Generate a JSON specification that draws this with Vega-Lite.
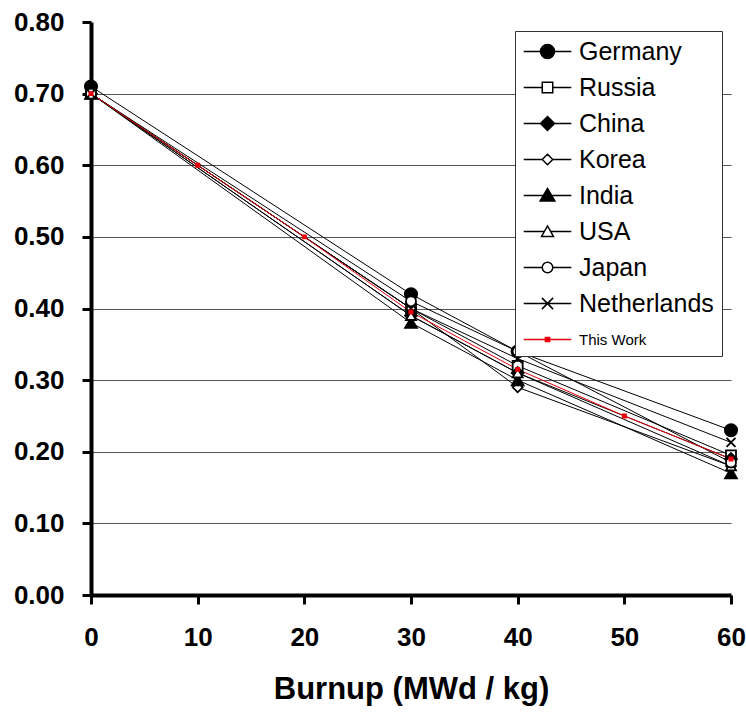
{
  "$schema": "https://vega.github.io/schema/vega-lite/v6.json",
  "width": 640,
  "height": 573,
  "autosize": {"type": "none"},
  "padding": {"left": 91, "top": 22, "right": 15, "bottom": 120},
  "background": "white",
  "config": {"view": {"stroke": null}},
  "data": {
    "values": [
      {"country": "Germany", "burnup": 0, "k": 0.71},
      {"country": "Germany", "burnup": 30, "k": 0.42},
      {"country": "Germany", "burnup": 40, "k": 0.34},
      {"country": "Germany", "burnup": 60, "k": 0.23},
      {"country": "Russia", "burnup": 0, "k": 0.70},
      {"country": "Russia", "burnup": 30, "k": 0.40},
      {"country": "Russia", "burnup": 40, "k": 0.32},
      {"country": "Russia", "burnup": 60, "k": 0.195},
      {"country": "China", "burnup": 0, "k": 0.70},
      {"country": "China", "burnup": 30, "k": 0.39},
      {"country": "China", "burnup": 40, "k": 0.31},
      {"country": "China", "burnup": 60, "k": 0.19},
      {"country": "Korea", "burnup": 0, "k": 0.70},
      {"country": "Korea", "burnup": 30, "k": 0.40},
      {"country": "Korea", "burnup": 40, "k": 0.29},
      {"country": "Korea", "burnup": 60, "k": 0.18},
      {"country": "India", "burnup": 0, "k": 0.70},
      {"country": "India", "burnup": 30, "k": 0.38},
      {"country": "India", "burnup": 40, "k": 0.30},
      {"country": "India", "burnup": 60, "k": 0.17},
      {"country": "USA", "burnup": 0, "k": 0.70},
      {"country": "USA", "burnup": 30, "k": 0.39},
      {"country": "USA", "burnup": 40, "k": 0.31},
      {"country": "USA", "burnup": 60, "k": 0.18},
      {"country": "Japan", "burnup": 0, "k": 0.70},
      {"country": "Japan", "burnup": 30, "k": 0.41},
      {"country": "Japan", "burnup": 40, "k": 0.34},
      {"country": "Japan", "burnup": 60, "k": 0.185},
      {"country": "Netherlands", "burnup": 0, "k": 0.70},
      {"country": "Netherlands", "burnup": 30, "k": 0.40},
      {"country": "Netherlands", "burnup": 40, "k": 0.33},
      {"country": "Netherlands", "burnup": 60, "k": 0.213},
      {"country": "This Work", "burnup": 0, "k": 0.70},
      {"country": "This Work", "burnup": 10, "k": 0.60},
      {"country": "This Work", "burnup": 20, "k": 0.50},
      {"country": "This Work", "burnup": 30, "k": 0.395},
      {"country": "This Work", "burnup": 40, "k": 0.315},
      {"country": "This Work", "burnup": 50, "k": 0.25},
      {"country": "This Work", "burnup": 60, "k": 0.19}
    ]
  },
  "encoding": {
    "x": {
      "field": "burnup", "type": "quantitative",
      "scale": {"domain": [0, 60], "nice": false, "zero": false},
      "axis": {
        "title": "Burnup (MWd / kg)",
        "values": [0, 10, 20, 30, 40, 50, 60],
        "grid": false,
        "domainColor": "black", "domainWidth": 4,
        "tickColor": "black", "tickWidth": 3, "tickSize": 9,
        "labelFont": "Liberation Sans, Arial, sans-serif",
        "labelFontSize": 26, "labelFontWeight": "bold", "labelColor": "black",
        "labelPadding": 20, "labelFlush": false,
        "titleFont": "Liberation Sans, Arial, sans-serif",
        "titleFontSize": 31, "titleFontWeight": "bold", "titleColor": "black",
        "titlePadding": 24
      }
    },
    "y": {
      "field": "k", "type": "quantitative",
      "scale": {"domain": [0, 0.8], "nice": false},
      "axis": {
        "title": null,
        "values": [0, 0.1, 0.2, 0.3, 0.4, 0.5, 0.6, 0.7, 0.8],
        "format": ".2f",
        "grid": true, "gridColor": "#555555", "gridWidth": 1,
        "gridOpacity": {"condition": {"test": "datum.value > 0.75", "value": 0}, "value": 1},
        "domainColor": "black", "domainWidth": 4,
        "tickColor": "black", "tickWidth": 3, "tickSize": 9,
        "labelFont": "Liberation Sans, Arial, sans-serif",
        "labelFontSize": 26, "labelFontWeight": "bold", "labelColor": "black",
        "labelPadding": 18, "labelFlush": false
      }
    }
  },
  "layer": [
    {
      "mark": {"type": "line", "strokeWidth": 1},
      "encoding": {
        "detail": {"field": "country"},
        "stroke": {
          "field": "country", "type": "nominal", "legend": null,
          "scale": {
            "domain": ["Germany", "Russia", "China", "Korea", "India", "USA", "Japan", "Netherlands", "This Work"],
            "range": ["black", "black", "black", "black", "black", "black", "black", "black", "#e8000b"]
          }
        }
      }
    },
    {
      "mark": {"type": "point", "filled": true, "strokeWidth": 1.8, "opacity": 1},
      "encoding": {
        "shape": {
          "field": "country", "type": "nominal", "legend": null,
          "scale": {
            "domain": ["Germany", "Russia", "China", "Korea", "India", "USA", "Japan", "Netherlands", "This Work"],
            "range": ["circle", "square", "diamond", "diamond", "triangle-up", "triangle-up", "circle", "M-1,-1L1,1M-1,1L1,-1", "square"]
          }
        },
        "fill": {
          "field": "country", "type": "nominal", "legend": null,
          "scale": {
            "domain": ["Germany", "Russia", "China", "Korea", "India", "USA", "Japan", "Netherlands", "This Work"],
            "range": ["black", "white", "black", "white", "black", "white", "white", "black", "#e8000b"]
          }
        },
        "stroke": {
          "field": "country", "type": "nominal", "legend": null,
          "scale": {
            "domain": ["Germany", "Russia", "China", "Korea", "India", "USA", "Japan", "Netherlands", "This Work"],
            "range": ["black", "black", "black", "black", "black", "black", "black", "black", "#e8000b"]
          }
        },
        "size": {
          "condition": [
            {"test": "datum.country === 'This Work'", "value": 10},
            {"test": "datum.country === 'Germany'", "value": 150},
            {"test": "datum.country === 'China' || datum.country === 'India'", "value": 140},
            {"test": "datum.country === 'Netherlands'", "value": 80}
          ],
          "value": 100
        }
      }
    },
    {
      "mark": {"type": "point", "filled": true, "opacity": 0},
      "encoding": {
        "shape": {
          "field": "country", "type": "nominal", "title": null,
          "scale": {
            "domain": ["Germany", "Russia", "China", "Korea", "India", "USA", "Japan", "Netherlands", "This Work"],
            "range": [
              "M-3.4,0H-1M1,0H3.4M-1,0A1,1,0,1,0,1,0A1,1,0,1,0,-1,0Z",
              "M-3.4,0H-0.75M0.75,0H3.4M-0.75,-0.75H0.75V0.75H-0.75Z",
              "M-3.4,0H-1M1,0H3.4M0,-1L1,0L0,1L-1,0Z",
              "M-3.4,0H-0.75M0.75,0H3.4M0,-0.75L0.75,0L0,0.75L-0.75,0Z",
              "M-3.4,0H3.4M0,-1L1.05,0.8H-1.05Z",
              "M-3.4,0H-0.45M0.45,0H3.4M0,-0.8L0.85,0.7H-0.85Z",
              "M-3.4,0H-0.75M0.75,0H3.4M-0.75,0A0.75,0.75,0,1,0,0.75,0A0.75,0.75,0,1,0,-0.75,0Z",
              "M-3.4,0H3.4M-0.8,-0.8L0.8,0.8M-0.8,0.8L0.8,-0.8",
              "M-3.4,0H3.4M-0.3,-0.3H0.3V0.3H-0.3Z"
            ]
          },
          "legend": {
            "orient": "top-right",
            "offset": 9,
            "padding": 8,
            "fillColor": "white",
            "strokeColor": "#333333",
            "cornerRadius": 0,
            "symbolSize": 196,
            "symbolStrokeWidth": 1.5,
            "symbolOpacity": 1,
            "symbolOffset": 12,
            "labelOffset": 19,
            "rowPadding": 10,
            "labelFont": "Liberation Sans, Arial, sans-serif",
            "labelColor": "black",
            "labelLimit": 300,
            "labelFontSize": {"expr": "datum.value === 'This Work' ? 15 : 25"}
          }
        },
        "fill": {
          "field": "country", "type": "nominal", "title": null,
          "scale": {
            "domain": ["Germany", "Russia", "China", "Korea", "India", "USA", "Japan", "Netherlands", "This Work"],
            "range": ["black", "white", "black", "white", "black", "white", "white", "black", "#e8000b"]
          }
        },
        "stroke": {
          "field": "country", "type": "nominal", "title": null,
          "scale": {
            "domain": ["Germany", "Russia", "China", "Korea", "India", "USA", "Japan", "Netherlands", "This Work"],
            "range": ["black", "black", "black", "black", "black", "black", "black", "black", "#e8000b"]
          }
        }
      }
    }
  ],
  "resolve": {
    "scale": {"shape": "independent", "fill": "independent", "stroke": "independent"}
  }
}
